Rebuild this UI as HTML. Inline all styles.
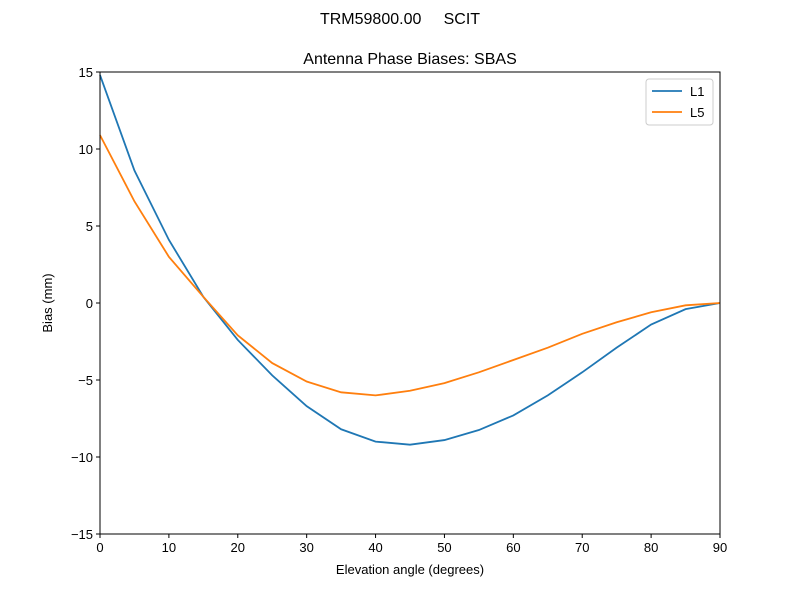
<!DOCTYPE html>
<html><head><meta charset="utf-8"><style>
body{margin:0;background:#fff;}
svg text{font-family:"Liberation Sans","DejaVu Sans",sans-serif;fill:#000;}
</style></head><body>
<svg id="chart" width="800" height="600" xmlns="http://www.w3.org/2000/svg">
<rect width="800" height="600" fill="#fff"/>
<text x="400" y="24" font-size="16" text-anchor="middle" style="white-space:pre">TRM59800.00&#160;&#160;&#160;&#160;&#160;SCIT</text>
<text x="410" y="64" font-size="16" text-anchor="middle">Antenna Phase Biases: SBAS</text>
<g id="plot"></g>
<text x="410" y="574" font-size="13" text-anchor="middle">Elevation angle (degrees)</text>
<text x="52" y="303" font-size="13" text-anchor="middle" transform="rotate(-90 52 303)">Bias (mm)</text>
</svg>
<script>
const elev=[0,5,10,15,20,25,30,35,40,45,50,55,60,65,70,75,80,85,90];
const l1=[14.8,8.6,4.1,0.4,-2.4,-4.7,-6.7,-8.2,-9.0,-9.2,-8.9,-8.25,-7.3,-6.0,-4.5,-2.9,-1.4,-0.4,0];
const l5=[10.9,6.6,3.0,0.4,-2.1,-3.9,-5.1,-5.8,-6.0,-5.7,-5.2,-4.5,-3.7,-2.9,-2.0,-1.25,-0.6,-0.15,0];
const xTicks=[0,10,20,30,40,50,60,70,80,90];
const yTicks=[-15,-10,-5,0,5,10,15];
const yLabels=["\u221215","\u221210","\u22125","0","5","10","15"];
const X0=100,X1=720,Y0=534,Y1=72;
const sx=v=>X0+(v-0)/90*(X1-X0);
const sy=v=>Y0-(v+15)/30*(Y0-Y1);
const NS="http://www.w3.org/2000/svg";
const g=document.getElementById('plot');
function mk(t,a){const e=document.createElementNS(NS,t);for(const k in a)e.setAttribute(k,a[k]);g.appendChild(e);return e;}
xTicks.forEach(v=>{
 const t=mk('line',{x1:sx(v),x2:sx(v),y1:Y0,y2:Y0+4,stroke:'#000'});
 
 
 const l=mk('text',{x:sx(v),y:Y0+18,'font-size':13,'text-anchor':'middle'});l.textContent=v;
 
 
});
yTicks.forEach((v,i)=>{
 const t=mk('line',{x1:X0-4,x2:X0,y1:sy(v),y2:sy(v),stroke:'#000'});
 
 
 const l=mk('text',{x:X0-7,y:sy(v)+5,'font-size':13,'text-anchor':'end'});l.textContent=yLabels[i];
 
 
});
function line(vals,color,name){
 const p=mk('polyline',{points:elev.map((x,i)=>sx(x)+','+sy(vals[i])).join(' '),fill:'none',stroke:color,'stroke-width':1.8});
 
 
}
line(l1,'#1f77b4','series-l1');
line(l5,'#ff7f0e','series-l5');
const fr=mk('rect',{x:X0,y:Y1,width:X1-X0,height:Y0-Y1,fill:'none',stroke:'#000','stroke-width':1});


const lg=mk('rect',{x:646,y:79,width:67,height:46,fill:'#fff',stroke:'#ccc',rx:3});


[['L1','#1f77b4',91],['L5','#ff7f0e',112]].forEach(([n,c,y])=>{
 const ln=mk('line',{x1:652,x2:682,y1:y,y2:y,stroke:c,'stroke-width':1.8});
 
 
 const t=mk('text',{x:690,y:y+5,'font-size':13});t.textContent=n;
 
 
});
</script>
</body></html>
